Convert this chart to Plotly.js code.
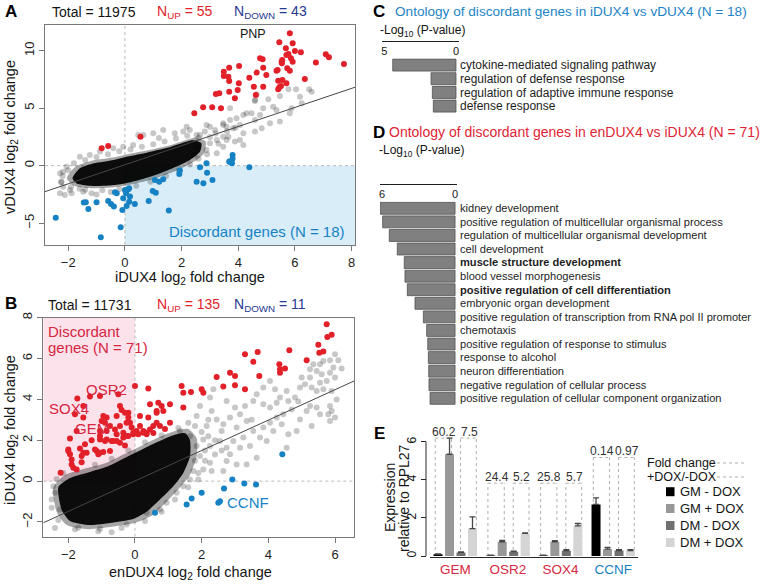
<!DOCTYPE html>
<html><head><meta charset="utf-8">
<script src="https://cdn.plot.ly/plotly-3.0.1.min.js"></script>
<style>html,body{margin:0;padding:0;background:#fff}#chart{width:760px;height:584px}</style>
</head><body><div id="chart"></div>
<script>
// ---------------- Panel A data (iDUX4 vs vDUX4) ----------------
const redA = [[-0.82,1.51],[-0.59,1.71],[0.55,2.52],[2.45,4.55],[2.76,5.07],[3.08,5.07],[3.39,4.99],[3.21,6.23],[3.33,6.30],[3.68,6.43],[3.88,5.86],[3.98,6.58],[4.02,7.16],[3.49,8.17],[3.68,8.52],[3.49,7.80],[3.65,7.74],[3.68,7.37],[4.03,8.67],[4.39,7.65],[4.65,8.09],[4.77,9.34],[4.86,9.25],[4.99,7.89],[4.88,8.52],[4.55,6.87],[4.88,6.87],[5.39,8.32],[5.53,9.04],[5.45,10.73],[5.68,10.20],[5.82,11.51],[5.70,9.63],[5.56,7.45],[5.41,7.39],[5.51,6.93],[5.70,7.17],[5.73,8.47],[5.92,10.64],[6.00,9.97],[6.21,9.86],[5.77,9.71],[5.86,9.34],[5.55,9.19],[5.54,8.90],[5.92,9.04],[6.74,8.96],[7.09,9.69],[7.20,9.43],[7.73,8.84],[5.35,8.26],[5.82,8.26],[6.35,7.54],[5.41,6.64],[5.45,6.82],[4.62,6.15]];
const blueA = [[-2.44,-4.52],[-0.85,-6.23],[-0.15,-5.36],[-1.38,-3.18],[-1.29,-3.77],[-1.0,-3.18],[-0.59,-3.07],[-0.49,-3.33],[-0.39,-3.56],[-0.35,-2.32],[-0.09,-3.85],[-0.06,-2.84],[0.04,-2.4],[0.12,-2.06],[0.18,-2.69],[0.06,-3.5],[0.35,-3.33],[0.84,-3.07],[0.98,-2.2],[1.09,-2.35],[1.06,-1.24],[1.21,-1.39],[1.35,-1.18],[1.55,-3.91],[1.92,-0.72],[1.94,-0.43],[2.53,-1.39],[2.77,-1.53],[2.9,-0.61],[2.88,0.21],[3.09,-1.24],[3.68,0.35],[3.78,0.21],[3.8,0.93],[3.8,0.6],[4.39,-0.14],[0.0,-2.11],[0.15,-1.97],[0.15,-3.13],[2.65,-0.14],[-1.45,-3.2],[-0.29,-2.4],[3.72,0.3]];
const grayA = [[5.77,6.64],[6.04,6.64],[6.5,6.64],[6.59,6.43],[5.47,6.06],[5.06,5.77],[4.59,5.63],[6.18,6.0],[6.24,5.43],[5.88,4.99],[5.35,4.84],[5.23,5.13],[4.88,4.99],[4.77,4.41],[4.47,4.56],[4.18,4.41],[3.94,4.12],[3.71,4.99],[4.59,3.97],[5.12,3.69],[3.82,3.25],[3.59,3.39],[4.18,2.82],[4.06,2.23],[4.18,1.8],[3.65,2.52],[3.88,2.09],[3.47,2.52],[4.59,2.96],[4.83,3.25],[5.47,3.83],[5.82,4.56],[3.47,3.69],[4.65,6.2],[4.59,5.71],[4.29,4.56],[3.71,3.97],[4.06,3.54],[3.47,3.54],[3.18,3.1],[3.0,3.39],[2.82,2.96],[2.53,2.67],[2.29,3.1],[2.06,2.96],[1.76,2.82],[1.35,3.1],[1.0,2.82],[0.65,2.67],[3.24,2.23],[3.59,2.23],[3.47,1.65],[3.0,1.95],[2.88,1.37],[2.53,1.65],[3.24,1.08],[-2.29,-0.66],[-2.24,-1.39],[-2.06,-0.09],[-2.18,-1.83],[-1.59,0.78],[-1.24,0.93],[-0.88,1.22],[-1.47,-2.26],[-1.6,-2.0],[-0.41,1.51],[-0.06,1.65],[0.29,1.8],[-1.88,-2.4],[-1.18,-2.4],[-1.94,-2.11],[-2.12,-2.55],[-2.29,-2.4],[-2.18,-0.52],[0.47,2.67],[2.18,3.39],[2.88,3.54],[2.65,2.67],
  [-2.2,-0.9],[-2.0,-0.4],[-1.8,0.2],[-1.4,0.5],[-1.0,0.75],[-0.6,1.0],[-0.2,1.25],[0.2,1.4],[0.6,1.65],[1.0,1.85],[1.4,2.1],[1.8,2.35],[2.2,2.6],[2.6,2.4],[3.0,2.5],[2.9,1.0],[2.6,0.6],[2.3,0.1],[1.9,-0.45],[1.45,-0.9],[0.9,-1.4],[0.4,-1.75],[-0.2,-2.05],[-0.8,-2.15],[-1.4,-2.1],[-1.9,-1.85],[-2.25,-1.45],[3.2,2.8],[3.6,3.0],[3.9,3.3],[2.45,0.95],[3.3,1.9],[1.2,2.4],[-1.0,-2.5],[-0.5,-2.3]];
// dense cloud outlines (soft edge and solid core)
const edgeAx = [-2.05,-1.75,-1.2,-0.45,0.1,0.85,1.55,2.05,2.5,2.85,2.8,2.45,1.85,1.2,0.55,-0.1,-0.7,-1.3,-1.8,-2.05];
const edgeAy = [-1.1,-0.1,0.4,0.7,1.0,1.35,1.75,2.15,2.45,2.1,1.1,0.35,-0.4,-1.0,-1.45,-1.8,-1.95,-1.95,-1.75,-1.1];
const coreAx = [-1.85,-1.6,-1.1,-0.4,0.1,0.8,1.5,2.0,2.4,2.7,2.65,2.3,1.7,1.1,0.5,-0.1,-0.65,-1.25,-1.7,-1.85];
const coreAy = [-1.1,-0.25,0.2,0.5,0.8,1.15,1.55,1.95,2.2,1.95,1.2,0.5,-0.2,-0.8,-1.25,-1.6,-1.75,-1.75,-1.55,-1.1];
const fitAx = [-2.82, 8.12];
const fitAy = [-2.26, 6.82];

// ---------------- Panel B data (enDUX4 vs iDUX4) ----------------
const redB = [[-2.23,0.41],[-1.95,2.09],[-2.0,1.47],[-1.95,1.31],[-1.9,1.06],[-1.9,0.82],[-1.85,0.66],[-1.6,0.93],[-1.6,1.23],[-1.45,1.39],[-1.75,2.45],[-1.8,3.27],[-1.73,4.05],[-1.55,3.68],[-1.55,3.11],[-1.5,1.8],[-1.35,4.14],[-1.05,4.17],[-1.15,1.47],[-1.1,1.31],[-0.95,1.42],[-0.75,1.47],[-0.95,3.19],[-0.9,2.86],[-0.75,2.7],[-1.05,2.21],[-0.85,2.04],[-0.65,1.96],[-0.5,4.25],[-0.45,3.68],[-0.4,3.48],[-0.2,3.35],[-0.2,3.11],[-0.15,2.86],[-0.1,2.62],[-0.05,2.37],[-0.55,2.29],[-0.45,1.88],[-0.35,2.37],[-0.25,2.21],[0.0,4.66],[0.4,4.54],[0.1,2.29],[0.25,2.45],[0.35,2.29],[0.45,2.53],[0.55,2.7],[0.65,2.86],[0.75,2.7],[0.8,3.68],[0.65,3.43],[0.85,3.43],[1.05,3.76],[1.05,2.86],[1.4,4.66],[1.45,4.33],[1.45,3.6],[1.68,4.36],[2.0,4.5],[2.05,4.33],[2.45,5.1],[2.65,4.63],[3.0,4.69],[3.0,5.15],[3.3,6.21],[3.3,4.5],[3.55,5.84],[3.68,6.32],[3.73,5.15],[4.33,5.72],[4.35,5.48],[4.5,5.51],[4.63,6.41],[-2.0,1.55],[-1.75,0.57],[-1.55,1.39],[-1.2,1.55],[-1.05,1.39],[-1.05,2.04],[-0.9,1.96],[-0.7,1.96],[-0.55,1.96],[-0.35,2.13],[-0.2,2.21],[-0.05,2.29],[-0.6,2.53],[-0.45,2.7],[-0.25,2.86],[0.05,2.45],[0.15,2.7],[0.25,2.37],[0.35,2.37],[-1.05,2.45],[-0.85,2.45],[-1.0,2.94],[-0.85,3.11],[-0.55,3.19],[-0.3,3.35],[0.15,3.19],[0.45,3.76],[0.7,3.84],[0.65,3.35],[0.4,3.11],[5.75,7.68],[5.77,7.06],[5.9,7.16],[5.5,6.67],[5.53,6.29],[5.65,6.34],[5.15,5.92],[4.35,5.31],[2.85,5.3],[-1.3,2.0],[-1.65,1.6],[-0.3,1.75],[0.55,2.35],[0.9,2.55]];
const blueB = [[0.6,-1.55],[1.55,-1.14],[1.7,-0.85],[2.0,-0.57],[2.5,-1.06],[2.55,-0.98],[2.67,-0.36],[2.92,0.08],[3.28,-0.11],[3.63,-0.16],[4.42,1.31]];
const grayB = [[6.0,6.21],[5.85,5.92],[6.1,5.92],[6.2,5.51],[5.95,5.56],[5.65,5.88],[5.55,5.72],[5.35,5.72],[5.25,5.48],[5.45,5.39],[5.6,5.23],[5.85,5.31],[6.0,5.07],[5.75,4.9],[5.55,4.82],[5.25,5.07],[5.0,5.07],[5.1,4.74],[4.95,4.58],[5.3,4.58],[5.45,4.41],[5.65,4.5],[5.9,4.41],[6.05,4.0],[5.85,3.68],[5.9,3.43],[5.8,3.27],[6.0,3.11],[5.85,2.94],[5.55,3.27],[5.45,3.6],[5.25,3.68],[5.15,3.43],[4.95,3.02],[4.7,3.51],[4.6,3.92],[4.8,4.09],[4.55,4.41],[4.35,4.09],[4.2,4.5],[4.05,4.9],[3.85,4.58],[3.65,4.25],[3.55,3.92],[3.85,3.76],[4.05,3.6],[4.25,3.84],[4.45,3.27],[4.25,3.11],[4.05,2.86],[3.85,2.62],[4.15,2.45],[4.4,2.78],[4.6,2.29],[4.85,2.45],[3.75,2.13],[3.55,2.45],[3.35,2.94],[3.15,3.27],[3.0,3.6],[3.3,3.68],[2.75,3.92],[2.85,3.11],[2.65,2.78],[3.05,2.62],[3.25,2.13],[2.95,1.96],[2.75,1.64],[3.15,1.64],[3.45,1.72],[3.65,1.15],[3.35,0.82],[3.05,0.82],[2.75,0.98],[2.85,1.31],[2.65,0.49],[3.95,1.96],[4.55,1.64],[2.55,1.96],[2.6,2.45],[2.35,4.5],[2.25,4.09],[1.95,3.68],[2.3,3.43],[1.85,3.19],[1.6,2.86],[2.15,2.7],[2.45,3.02],[1.35,2.45],[1.65,2.2],[2.05,2.04],[1.85,1.72],[2.25,1.72],[1.95,1.23],[2.25,0.9],[2.05,0.57],[1.75,0.49],[1.9,0.08],[1.65,0.08],[1.45,-0.25],[1.25,-0.57],[0.95,-1.06],[0.75,-1.39],[-1.7,-2.28],[-2.45,-0.25],[-2.4,-0.57],[-2.25,-1.39],[-1.05,-2.33],[-0.25,-2.12],[0.35,-1.55],[3.5,3.0],[4.9,3.9],[5.3,2.7],[2.4,1.3],[2.1,1.5],
  [-2.5,-0.9],[-2.35,0.1],[-2.15,0.4],[-1.2,0.8],[-0.7,1.1],[-0.2,1.5],[0.3,1.9],[0.8,2.25],[1.3,2.6],[1.8,2.7],[2.0,2.4],[2.2,2.2],[2.1,1.0],[1.9,0.4],[1.6,-0.3],[1.2,-0.9],[0.8,-1.5],[0.3,-1.95],[-0.4,-2.3],[-1.1,-2.45],[-1.8,-2.35],[-2.3,-1.9],[-2.5,-1.3],[2.4,2.0],[2.6,1.5],[2.3,0.5],[1.8,1.0],[2.2,3.0],[-2.4,-2.3],[-0.7,-2.5]];
const edgeBx = [-2.45,-2.1,-1.4,-0.85,-0.35,0.15,0.65,1.2,1.6,1.85,1.85,1.65,1.3,0.9,0.5,0.0,-0.75,-1.4,-2.05,-2.35,-2.45];
const edgeBy = [-0.3,0.3,0.65,0.9,1.3,1.7,2.1,2.45,2.55,2.1,1.2,0.3,-0.4,-1.1,-1.7,-2.05,-2.25,-2.35,-2.15,-1.5,-0.3];
const coreBx = [-2.3,-1.95,-1.35,-0.85,-0.35,0.15,0.65,1.15,1.5,1.65,1.65,1.45,1.15,0.75,0.35,-0.05,-0.75,-1.35,-1.95,-2.2,-2.3];
const coreBy = [-0.3,0.15,0.45,0.7,1.1,1.5,1.9,2.25,2.35,2.0,1.2,0.4,-0.25,-0.9,-1.5,-1.85,-2.05,-2.15,-1.95,-1.4,-0.3];
const fitBx = [-2.75, 6.57];
const fitBy = [-2.04, 4.9];

// ---------------- Panel C / D data ----------------
const cTerms = ['cytokine-mediated signaling pathway','regulation of defense response','regulation of adaptive immune response','defense response'];
const cVals = [4.41, 1.74, 1.65, 1.58];
const dTerms = ['kidney development','positive regulation of multicellular organismal process','regulation of multicellular organismal development','cell development','muscle structure development','blood vessel morphogenesis','positive regulation of cell differentiation','embryonic organ development','positive regulation of transcription from RNA pol II promoter','chemotaxis','positive regulation of response to stimulus','response to alcohol','neuron differentiation','negative regulation of cellular process','positive regulation of cellular component organization'];
const dVals = [6.15, 5.94, 5.40, 4.74, 4.17, 4.11, 3.92, 3.29, 2.60, 2.33, 2.24, 2.19, 2.16, 2.14, 2.05];
const dBold = [0,0,0,0,1,0,1,0,0,0,0,0,0,0,0];

// ---------------- Panel E data ----------------
const eCats = ['GEM','OSR2','SOX4','CCNF'];
const eSeries = ['GM - DOX','GM + DOX','DM - DOX','DM + DOX'];
const gmMinus = [0.09, 0.03, 0.03, 2.71];
const gmPlus  = [5.35, 0.75, 0.75, 0.36];
const dmMinus = [0.19, 0.23, 0.28, 0.29];
const dmPlus  = [1.44, 1.19, 1.58, 0.28];
const gmMinusErr = [0.02, 0.01, 0.01, 0.35];
const gmPlusErr  = [0.85, 0.07, 0.06, 0.09];
const dmMinusErr = [0.03, 0.03, 0.05, 0.04];
const dmPlusErr  = [0.62, 0.03, 0.13, 0.06];
const foldGM = ['60.2','24.4','25.8','0.14'];
const foldDM = ['7.5','5.2','5.7','0.97'];
const bracketH = [6.2, 3.83, 3.83, 5.18];

// ---------------- layout helpers ----------------
const W = 760, H = 584;
const FONT = 'Liberation Sans, Arial, Helvetica, sans-serif';
const px = x => x / W, py = y => 1 - y / H;
const RED = 'rgb(226,32,42)', BLUE = 'rgb(22,130,196)', NAVY = 'rgb(40,56,145)', CRIM = 'rgb(214,38,64)';
const xs = a => a.map(p => p[0]), ys = a => a.map(p => p[1]);

const traces = [];
function cloud(ax, ay, xa, ya, alpha) {
  traces.push({type:'scatter', mode:'lines', x:ax, y:ay, fill:'toself', fillcolor:`rgba(0,0,0,${alpha})`, line:{width:0, shape:'spline', smoothing:0.6}, xaxis:xa, yaxis:ya, hoverinfo:'skip'});
}
function pts(arr, xa, ya, color, size) {
  traces.push({type:'scatter', mode:'markers', x:xs(arr), y:ys(arr), xaxis:xa, yaxis:ya, marker:{color:color, size:size, line:{width:0}}, hoverinfo:'skip'});
}
function fit(fx, fy, xa, ya) {
  traces.push({type:'scatter', mode:'lines', x:fx, y:fy, xaxis:xa, yaxis:ya, line:{color:'rgb(70,70,70)', width:1}, hoverinfo:'skip'});
}
pts(grayA, 'x', 'y', 'rgba(0,0,0,0.22)', 6);
cloud(edgeAx, edgeAy, 'x', 'y', 0.35);
cloud(coreAx, coreAy, 'x', 'y', 0.93);
fit(fitAx, fitAy, 'x', 'y');
pts(redA, 'x', 'y', RED, 6);
pts(blueA, 'x', 'y', BLUE, 6);
pts(grayB, 'x2', 'y2', 'rgba(0,0,0,0.22)', 6);
cloud(edgeBx, edgeBy, 'x2', 'y2', 0.35);
cloud(coreBx, coreBy, 'x2', 'y2', 0.93);
fit(fitBx, fitBy, 'x2', 'y2');
pts(redB, 'x2', 'y2', RED, 6);
pts(blueB, 'x2', 'y2', BLUE, 6);
traces.push({type:'bar', orientation:'h', x:cVals, y:cTerms.map((t,i)=>i), width:0.88, xaxis:'x3', yaxis:'y3',
  marker:{color:'rgb(128,128,128)', line:{color:'rgb(80,80,80)', width:0.8}}, hoverinfo:'skip'});
traces.push({type:'bar', orientation:'h', x:dVals, y:dTerms.map((t,i)=>i), width:0.88, xaxis:'x4', yaxis:'y4',
  marker:{color:'rgb(128,128,128)', line:{color:'rgb(80,80,80)', width:0.8}}, hoverinfo:'skip'});
const eVals = [gmMinus, gmPlus, dmMinus, dmPlus];
const eErr = [gmMinusErr, gmPlusErr, dmMinusErr, dmPlusErr];
const eColors = ['rgb(0,0,0)','rgb(152,152,152)','rgb(112,112,112)','rgb(212,212,212)'];
const eOff = [-0.327, -0.109, 0.109, 0.327];
const eW = 0.171;
eVals.forEach((v, s) => {
  traces.push({type:'bar', x:eCats.map((c,i)=>i), y:v, width:eW, offset:eOff[s]-eW/2, xaxis:'x5', yaxis:'y5', name:eSeries[s],
    marker:{color:eColors[s], line:{width:0}},
    error_y:{type:'data', symmetric:false, array:eErr[s], arrayminus:v.map(()=>0), color:'rgb(70,70,70)', thickness:1.3, width:3},
    hoverinfo:'skip'});
});

const dashGray = {color:'rgb(185,185,185)', width:1, dash:'3px,3px'};
const shapes = [
  {type:'rect', xref:'x', yref:'y', x0:0, x1:8.12, y0:-6.9, y1:0, fillcolor:'rgb(216,237,248)', line:{width:0}, layer:'below'},
  {type:'line', xref:'x', yref:'y', x0:0, x1:0, y0:-6.9, y1:12.23, line:dashGray, layer:'below'},
  {type:'line', xref:'x', yref:'y', x0:-2.82, x1:8.12, y0:0, y1:0, line:dashGray, layer:'below'},
  {type:'rect', xref:'x2', yref:'y2', x0:-2.75, x1:0, y0:0, y1:8.0, fillcolor:'rgb(251,226,235)', line:{width:0}, layer:'below'},
  {type:'line', xref:'x2', yref:'y2', x0:0, x1:0, y0:-2.72, y1:8.0, line:dashGray, layer:'below'},
  {type:'line', xref:'x2', yref:'y2', x0:-2.75, x1:6.57, y0:0, y1:0, line:dashGray, layer:'below'},
  {type:'line', xref:'paper', yref:'y5', x0:px(426), x1:px(426), y0:0, y1:6, line:{color:'rgb(40,40,40)', width:1}},
  {type:'line', xref:'paper', yref:'paper', x0:px(711), x1:px(745), y0:py(463), y1:py(463), line:{color:'rgb(175,175,175)', width:1, dash:'3px,3px'}},
  {type:'line', xref:'paper', yref:'paper', x0:px(711), x1:px(745), y0:py(477), y1:py(477), line:{color:'rgb(175,175,175)', width:1, dash:'3px,3px'}},
];
const bDash = {color:'rgb(175,175,175)', width:1, dash:'3px,3px'};
const brSpan = [[-0.38, -0.07], [0.1, 0.4]];
eCats.forEach((c, i) => {
  brSpan.forEach(([a, b]) => {
    const xa = i + a, xb = i + b, h = bracketH[i];
    shapes.push({type:'line', xref:'x5', yref:'y5', x0:xa, x1:xa, y0:0, y1:h, line:bDash, layer:'below'});
    shapes.push({type:'line', xref:'x5', yref:'y5', x0:xb, x1:xb, y0:0, y1:h, line:bDash, layer:'below'});
    shapes.push({type:'line', xref:'x5', yref:'y5', x0:xa, x1:xb, y0:h, y1:h, line:bDash, layer:'below'});
  });
});
const legY = [491.7, 508.5, 525.5, 542.5];
eSeries.forEach((s, k) => {
  shapes.push({type:'rect', xref:'paper', yref:'paper', x0:px(666), x1:px(674.5), y0:py(legY[k]+4.5), y1:py(legY[k]-4.5), fillcolor:eColors[k], line:{width:0}});
});

function ann(text, x, y, o) {
  return Object.assign({text:text, x:px(x), y:py(y), xref:'paper', yref:'paper', showarrow:false, xanchor:'center', yanchor:'middle',
    font:{family:FONT, size:14, color:'rgb(20,20,20)'}}, o || {});
}
const f = (size, color) => ({family:FONT, size:size, color:color || 'rgb(20,20,20)'});
const annotations = [
  ann('<b>A</b>', 11, 12, {font:f(17,'#000')}),
  ann('Total = 11975', 93.5, 12, {font:f(14)}),
  ann('N<sub>UP</sub> = 55', 184.5, 12, {font:f(14, RED)}),
  ann('N<sub>DOWN</sub> = 43', 232, 12, {xanchor:'left', font:f(14, NAVY)}),
  ann('PNP', 252.5, 34, {font:f(12.5)}),
  ann('Discordant genes (N = 18)', 347, 231, {xanchor:'right', font:f(15, BLUE)}),
  ann('iDUX4 log<sub>2</sub> fold change', 190, 278, {font:f(14.5)}),
  ann('vDUX4 log<sub>2</sub> fold change', 11, 137, {textangle:-90, font:f(14.5)}),
  ann('<b>B</b>', 11, 303, {font:f(17,'#000')}),
  ann('Total = 11731', 90, 305, {font:f(14)}),
  ann('N<sub>UP</sub> = 135', 188, 305, {font:f(14, RED)}),
  ann('N<sub>DOWN</sub> = 11', 232, 305, {xanchor:'left', font:f(14, NAVY)}),
  ann('Discordant', 46, 331, {xanchor:'left', font:f(15, CRIM)}),
  ann('genes (N = 71)', 46, 347, {xanchor:'left', font:f(15, CRIM)}),
  ann('OSR2', 106.5, 389, {font:f(15, CRIM)}),
  ann('SOX4', 69, 408, {font:f(15, CRIM)}),
  ann('GEM', 92, 428, {font:f(15, CRIM)}),
  ann('CCNF', 225, 503, {xanchor:'left', font:f(15, BLUE)}),
  ann('enDUX4 log<sub>2</sub> fold change', 190, 573, {font:f(14.5)}),
  ann('iDUX4 log<sub>2</sub> fold change', 11, 430, {textangle:-90, font:f(14.5)}),
  ann('<b>C</b>', 379, 12, {font:f(17,'#000')}),
  ann('Ontology of discordant genes in iDUX4 vs vDUX4 (N = 18)', 393, 12, {xanchor:'left', font:f(13.6, 'rgb(28,132,198)')}),
  ann('-Log<sub>10</sub> (P-value)', 378, 31, {xanchor:'left', font:f(12)}),
  ann('<b>D</b>', 379, 132, {font:f(17,'#000')}),
  ann('Ontology of discordant genes in enDUX4 vs iDUX4 (N = 71)', 387, 132, {xanchor:'left', font:f(14, 'rgb(224,36,52)')}),
  ann('-Log<sub>10</sub> (P-value)', 377, 151, {xanchor:'left', font:f(12)}),
  ann('<b>E</b>', 379, 433, {font:f(17,'#000')}),
  ann('Expression', 390, 498, {textangle:-90, font:f(14)}),
  ann('relative to RPL27', 404, 498, {textangle:-90, font:f(14)}),
  ann('Fold change', 645, 463, {xanchor:'left', font:f(12.5)}),
  ann('+DOX/-DOX', 645, 477, {xanchor:'left', font:f(12.5)}),
];
eSeries.forEach((s, k) => annotations.push(ann(s, 678, legY[k], {xanchor:'left', font:f(13)})));
eCats.forEach((c, i) => {
  annotations.push({text:foldGM[i], x:i - 0.215, y:bracketH[i] + 0.33, xref:'x5', yref:'y5', showarrow:false, font:f(12,'rgb(50,50,50)')});
  annotations.push({text:foldDM[i], x:i + 0.262, y:bracketH[i] + 0.33, xref:'x5', yref:'y5', showarrow:false, font:f(12,'rgb(50,50,50)')});
});

const frame = {showline:true, mirror:true, linecolor:'rgb(120,120,120)', linewidth:1.2, ticks:'outside', ticklen:5, tickwidth:1,
  tickcolor:'rgb(120,120,120)', tickfont:{family:FONT, size:13, color:'rgb(30,30,30)'}, showgrid:false, zeroline:false};
const eCatColors = [CRIM, CRIM, CRIM, BLUE];
const layout = {
  width:W, height:H, margin:{l:0, r:0, t:0, b:0}, paper_bgcolor:'#fff', plot_bgcolor:'rgba(0,0,0,0)', showlegend:false,
  font:{family:FONT}, barmode:'group',
  xaxis: Object.assign({}, frame, {domain:[px(45), px(355)], range:[-2.82, 8.12], tickvals:[-2,0,2,4,6,8], anchor:'y'}),
  yaxis: Object.assign({}, frame, {domain:[py(245), py(25)], range:[-6.9, 12.23], tickvals:[-5,0,5,10], tickangle:-90, anchor:'x'}),
  xaxis2: Object.assign({}, frame, {domain:[px(43.3), px(354)], range:[-2.75, 6.57], tickvals:[-2,0,2,4,6], anchor:'y2'}),
  yaxis2: Object.assign({}, frame, {domain:[py(536.7), py(317.7)], range:[-2.72, 8.0], tickvals:[-2,0,2,4,6,8], tickangle:-90, anchor:'x2'}),
  xaxis3: {domain:[px(381.7), px(459)], range:[5.18, -0.21], anchor:'free', position:py(41), tickvals:[5,0], showline:true, linecolor:'rgb(30,30,30)', linewidth:1.2,
    ticks:'', showgrid:false, zeroline:false, tickfont:f(11)},
  yaxis3: {domain:[py(112.9), py(58.2)], range:[3.5, -0.5], anchor:'free', position:px(457), side:'right', tickvals:cTerms.map((t,i)=>i), ticktext:cTerms,
    showline:false, ticks:'', showgrid:false, zeroline:false, tickfont:f(12,'rgb(30,30,30)'), ticklabelstandoff:2},
  xaxis4: {domain:[px(380), px(457)], range:[6.16, -0.16], anchor:'free', position:py(184), tickvals:[6,0], showline:true, linecolor:'rgb(30,30,30)', linewidth:1.2,
    ticks:'', showgrid:false, zeroline:false, tickfont:f(11)},
  yaxis4: {domain:[py(405.1), py(201.5)], range:[14.5, -0.5], anchor:'free', position:px(457), side:'right', tickvals:dTerms.map((t,i)=>i),
    ticktext:dTerms.map((t,i)=> dBold[i] ? '<b>'+t+'</b>' : t),
    showline:false, ticks:'', showgrid:false, zeroline:false, tickfont:f(11.1,'rgb(30,30,30)'), ticklabelstandoff:2},
  xaxis5: {domain:[px(430), px(638)], range:[-0.48, 3.47], anchor:'y5', tickvals:[0,1,2,3],
    ticktext:eCats.map((c,i)=>`<span style="color:${eCatColors[i]}">${c}</span>`), showline:true, linecolor:'rgb(40,40,40)', linewidth:1.2,
    ticks:'', showgrid:false, zeroline:false, tickfont:f(13.5)},
  yaxis5: {domain:[py(556.6), py(427.6)], range:[-0.03, 6.75], anchor:'free', position:px(426), tickvals:[0,2,4,6], tickangle:-90,
    showline:false, ticks:'outside', ticklen:5, tickcolor:'rgb(40,40,40)', showgrid:false, zeroline:false, tickfont:f(12)},
  shapes: shapes,
  annotations: annotations,
};
Plotly.newPlot('chart', traces, layout, {staticPlot:true, displayModeBar:false});
</script></body></html>
